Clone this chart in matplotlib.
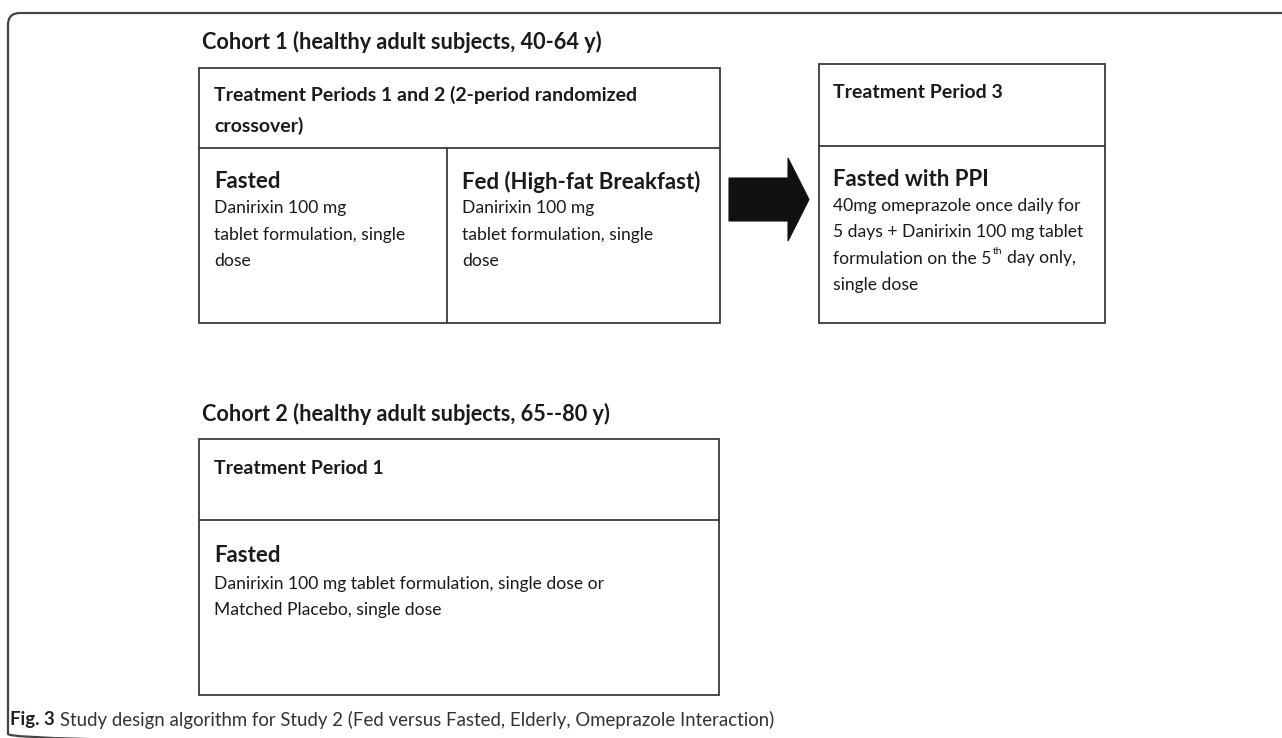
import matplotlib
matplotlib.use("Agg")
import matplotlib.pyplot as plt
import matplotlib.patches as mpatches

# text content of the diagram
cohort_titles = ["Cohort 1 (healthy adult subjects, 40-64 y)",
                 "Cohort 2 (healthy adult subjects, 65--80 y)"]
period_headers = ["Treatment Periods 1 and 2 (2-period randomized\ncrossover)",
                  "Treatment Period 3",
                  "Treatment Period 1"]
arm_titles = ["Fasted", "Fed (High-fat Breakfast)", "Fasted with PPI", "Fasted"]
arm_lines = [
    ["Danirixin 100 mg", "tablet formulation, single", "dose"],
    ["Danirixin 100 mg", "tablet formulation, single", "dose"],
    ["40mg omeprazole once daily for", "5 days + Danirixin 100 mg tablet",
     "formulation on the 5", "single dose"],
    ["Danirixin 100 mg tablet formulation, single dose or",
     "Matched Placebo, single dose"],
]
caption_bold = "Fig. 3"
caption_text = "Study design algorithm for Study 2 (Fed versus Fasted, Elderly, Omeprazole Interaction)"

W, H = 1282, 738
FONT = "Lato"
LC = "#3a3a3a"
TC = "#1a1a1a"
S_COH = 15.6
S_HDR = 14.0
S_ARM = 16.0
S_BODY = 12.6

fig = plt.figure(figsize=(W / 100, H / 100), dpi=100)
ax = fig.add_axes([0, 0, 1, 1])
ax.set_xlim(0, W)
ax.set_ylim(H, 0)
ax.set_axis_off()

# outer rounded frame (runs off right/bottom edges)
frame = mpatches.FancyBboxPatch((8, 13), 1320, 733, boxstyle="round,pad=0,rounding_size=12",
                                facecolor="none", edgecolor="#444444", linewidth=1.6)
ax.add_patch(frame)


def box(x0, y0, x1, y1):
    ax.add_patch(mpatches.Rectangle((x0, y0), x1 - x0, y1 - y0, facecolor="none",
                                    edgecolor=LC, linewidth=1.3))


def hline(x0, x1, y):
    ax.plot([x0, x1], [y, y], color=LC, lw=1.3)


def vline(x, y0, y1):
    ax.plot([x, x], [y0, y1], color=LC, lw=1.3)


def txt(x, y, s, size, bold=False, color=TC):
    return ax.text(x, y, s, fontsize=size, fontweight="bold" if bold else "normal",
                   family=FONT, color=color, va="center_baseline", ha="left")


def body(x, y0, lines, step=26.5, size=S_BODY):
    for i, s in enumerate(lines):
        txt(x, y0 + i * step, s, size)


def right_of(t):
    fig.canvas.draw()
    bb = t.get_window_extent(renderer=fig.canvas.get_renderer())
    return ax.transData.inverted().transform((bb.x1, bb.y0))[0]


# Cohort 1
txt(202, 40, cohort_titles[0], S_COH, bold=True)
box(199, 68, 720, 323)
hline(199, 720, 148)
vline(447, 148, 323)
txt(214, 93, period_headers[0].split("\n")[0], S_HDR, bold=True)
txt(214, 124, period_headers[0].split("\n")[1], S_HDR, bold=True)
txt(214, 180, arm_titles[0], S_ARM, bold=True)
body(214, 207, arm_lines[0])
txt(462, 180, arm_titles[1], S_ARM, bold=True)
body(462, 207, arm_lines[1])

# arrow
arrow = mpatches.Polygon([(729, 178), (788, 178), (788, 158), (809, 199.5),
                          (788, 241), (788, 221), (729, 221)],
                         closed=True, facecolor="#111111", edgecolor="#111111", lw=0.8)
ax.add_patch(arrow)

# Treatment period 3
box(819, 64, 1105, 323)
hline(819, 1105, 146)
txt(833, 91, period_headers[1], S_HDR, bold=True)
txt(833, 177, arm_titles[2], S_ARM, bold=True)
body(833, 204, arm_lines[2])
# superscript "th"
x_end = right_of(ax.texts[-2])
sup = ax.text(x_end + 1, 204 + 2 * 26.5 - 7, "th", fontsize=7.5, family=FONT, color=TC,
              va="center_baseline", ha="left")
txt(right_of(sup) + 5, 204 + 2 * 26.5, "day only,", S_BODY)

# Cohort 2
txt(202, 412, cohort_titles[1], S_COH, bold=True)
box(199, 439, 719, 695)
hline(199, 719, 520)
txt(214, 467, period_headers[2], S_HDR, bold=True)
txt(214, 553, arm_titles[3], S_ARM, bold=True)
body(214, 582, arm_lines[3])

# caption
cb = txt(10, 718, caption_bold, 13.4, bold=True, color="#222222")
txt(right_of(cb) + 5, 718, caption_text, 13.4, color="#333333")

fig.savefig("out.png", dpi=100, facecolor="white")
